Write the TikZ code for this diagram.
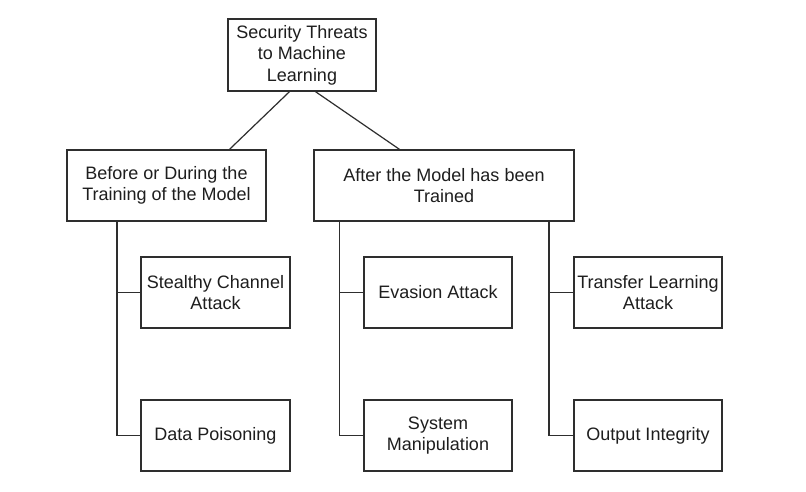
\documentclass[tikz,border=0pt]{standalone}
\usepackage{fontspec}
\setmainfont{Liberation Sans}
\definecolor{edge}{HTML}{2E2E2E}
\definecolor{txt}{HTML}{1E1E1E}
\begin{document}
\begin{tikzpicture}[x=1pt,y=-1pt,
  box/.style={draw=edge,line width=1.3pt,rectangle,inner sep=0pt,align=center,
    text=txt,font=\fontsize{18}{21.5}\selectfont,minimum height=71pt},
  link/.style={draw=edge,line width=1.2pt}]
\useasboundingbox[fill=white] (0,0) rectangle (806,491);
\node[box,minimum width=148pt,minimum height=72pt] (top) at (302,55) {Security Threats\\to Machine\\Learning};
\node[box,minimum width=199pt] (l1) at (166.5,185.5) {Before or During the\\Training of the Model};
\node[box,minimum width=260pt] (r1) at (444,185.5) {After the Model has been\\Trained};
\node[box,minimum width=149pt] (st) at (215.5,292.5) {Stealthy Channel\\Attack};
\node[box,minimum width=149pt] (dp) at (215.5,435.5) {Data Poisoning};
\node[box,minimum width=148pt] (ev) at (438,292.5) {Evasion Attack};
\node[box,minimum width=148pt] (sm) at (438,435.5) {System\\Manipulation};
\node[box,minimum width=148pt] (tl) at (648,292.5) {Transfer Learning\\Attack};
\node[box,minimum width=148pt] (oi) at (648,435.5) {Output Integrity};
\draw[link] ([xshift=-12.5pt]top.south) -- ([xshift=63pt]l1.north);
\draw[link] ([xshift=13.5pt]top.south) -- ([xshift=-44.5pt]r1.north);
\draw[link] ([xshift=-49.5pt]l1.south) |- (st.west);
\draw[link] ([xshift=-49.5pt]l1.south) |- (dp.west);
\draw[link] ([xshift=-104.5pt]r1.south) |- (ev.west);
\draw[link] ([xshift=-104.5pt]r1.south) |- (sm.west);
\draw[link] ([xshift=105pt]r1.south) |- (tl.west);
\draw[link] ([xshift=105pt]r1.south) |- (oi.west);
\end{tikzpicture}
\end{document}
